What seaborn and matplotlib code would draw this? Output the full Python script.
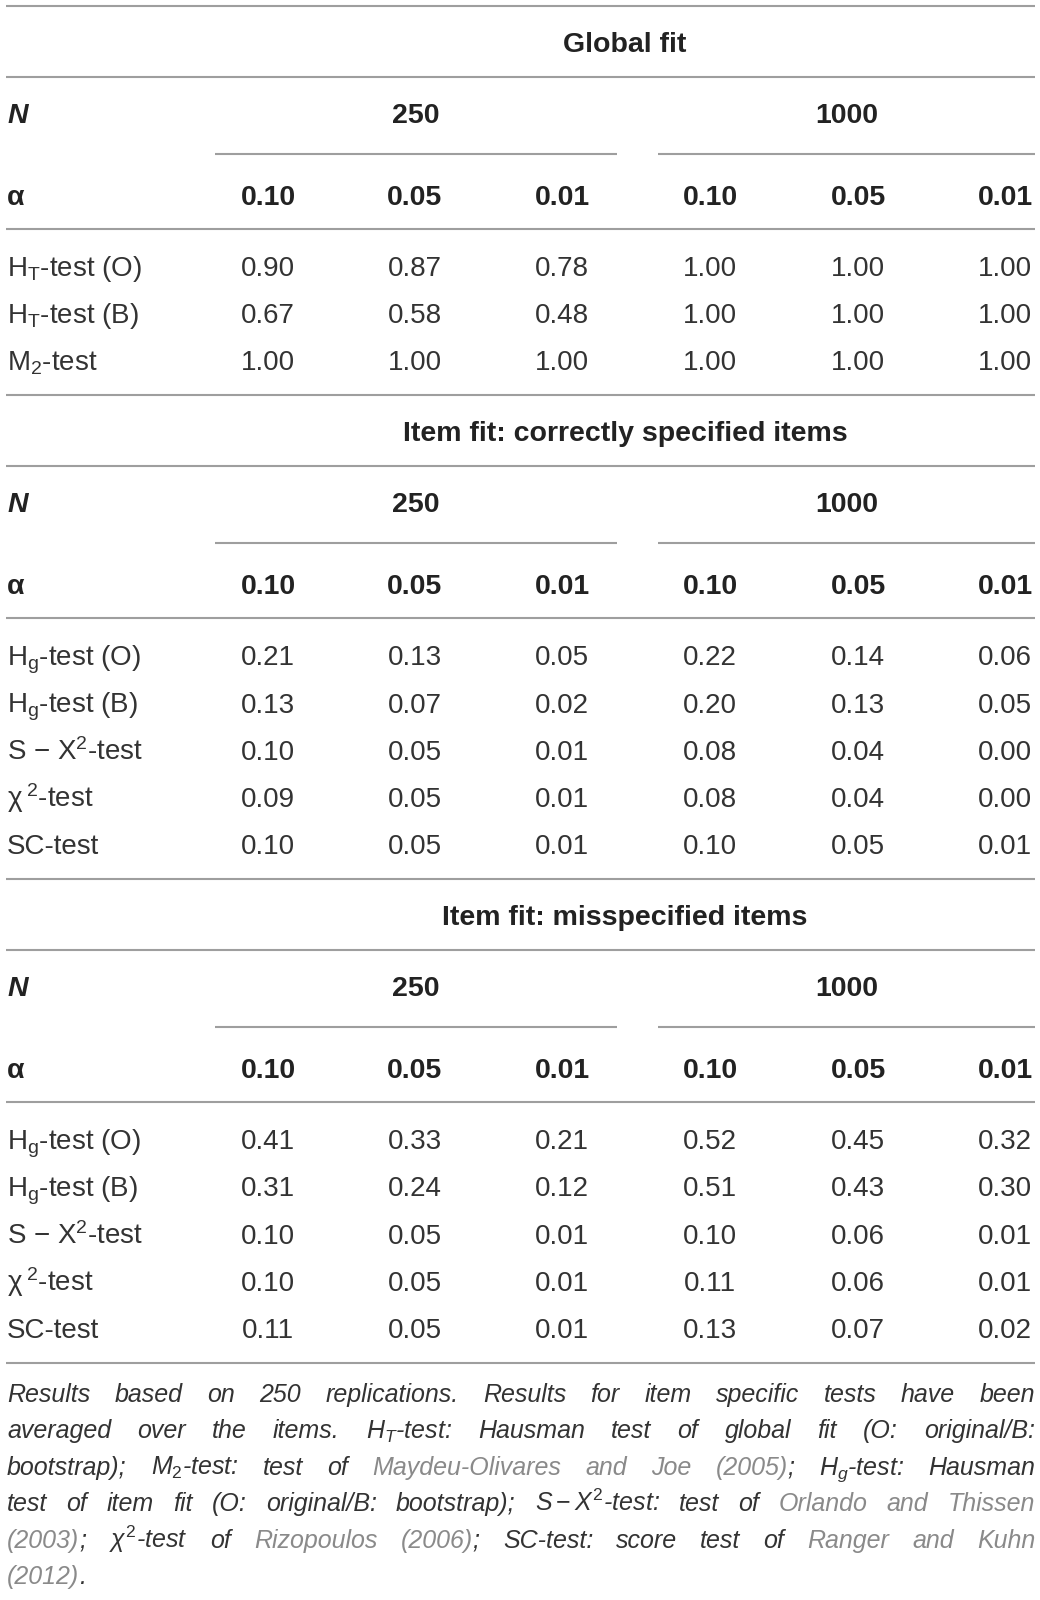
import numpy as np
import pandas as pd
import matplotlib
matplotlib.use("Agg")
import matplotlib.pyplot as plt
from matplotlib import font_manager
import seaborn as sns

# Step 1: table content
sample_sizes = ["250", "1000"]
alpha_levels = ["0.10", "0.05", "0.01"]
section_titles = ["Global fit",
                  "Item fit: correctly specified items",
                  "Item fit: misspecified items"]

global_tests = [r"H$_\mathrm{T}$-test (O)",
                r"H$_\mathrm{T}$-test (B)",
                r"M$_2$-test"]
global_values = [
    [0.90, 0.87, 0.78, 1.00, 1.00, 1.00],
    [0.67, 0.58, 0.48, 1.00, 1.00, 1.00],
    [1.00, 1.00, 1.00, 1.00, 1.00, 1.00],
]

item_tests = [r"H$_\mathrm{g}$-test (O)",
              r"H$_\mathrm{g}$-test (B)",
              r"S − X$^2$-test",
              r"χ$^{\;2}$-test",
              "SC-test"]
correct_values = [
    [0.21, 0.13, 0.05, 0.22, 0.14, 0.06],
    [0.13, 0.07, 0.02, 0.20, 0.13, 0.05],
    [0.10, 0.05, 0.01, 0.08, 0.04, 0.00],
    [0.09, 0.05, 0.01, 0.08, 0.04, 0.00],
    [0.10, 0.05, 0.01, 0.10, 0.05, 0.01],
]
misspec_values = [
    [0.41, 0.33, 0.21, 0.52, 0.45, 0.32],
    [0.31, 0.24, 0.12, 0.51, 0.43, 0.30],
    [0.10, 0.05, 0.01, 0.10, 0.06, 0.01],
    [0.10, 0.05, 0.01, 0.11, 0.06, 0.01],
    [0.11, 0.05, 0.01, 0.13, 0.07, 0.02],
]

# [ ... ] marks the grey reference links
footnote_lines = [
    "Results based on 250 replications. Results for item specific tests have been",
    r"averaged over the items. $H_T$-test: Hausman test of global fit (O: original/B:",
    r"bootstrap); $M_2$-test: test of [Maydeu-Olivares and Joe (2005)]; $H_g$-test: Hausman",
    r"test of item fit (O: original/B: bootstrap); $S-X^2$-test: test of [Orlando and Thissen]",
    r"[(2003)]; $\chi^2$-test of [Rizopoulos (2006)]; SC-test: score test of [Ranger and Kuhn]",
    "[(2012)].",
]

# Step 2: build small tables
cols = pd.MultiIndex.from_product([sample_sizes, alpha_levels])
sections = [
    pd.DataFrame(global_values, index=global_tests, columns=cols),
    pd.DataFrame(correct_values, index=item_tests, columns=cols),
    pd.DataFrame(misspec_values, index=item_tests, columns=cols),
]


def has_font(name):
    try:
        font_manager.findfont(font_manager.FontProperties(family=name),
                              fallback_to_default=False)
        return True
    except Exception:
        return False


narrow = has_font("Liberation Sans Narrow")
foot_font = "Liberation Sans Narrow" if narrow else "Liberation Sans"
foot_size = 18

# Step 3: styling
sns.set_theme(style="white")
plt.rcParams["font.family"] = ["Liberation Sans", "DejaVu Sans"]
plt.rcParams["mathtext.fontset"] = "custom"
plt.rcParams["mathtext.rm"] = "Liberation Sans"
plt.rcParams["mathtext.it"] = foot_font + ":italic"
plt.rcParams["mathtext.bf"] = "Liberation Sans:bold"

body_color = "#333333"
head_color = "#222222"
rule_color = "#9e9e9e"
link_color = "#8a8a8a"
body_size = 20
head_size = 20.5

fig = plt.figure(figsize=(10.4, 16), dpi=100)
ax = fig.add_axes([0, 0, 1, 1])
ax.set_xlim(0, 1040)
ax.set_ylim(1600, 0)
ax.axis("off")

left_x = 7
right_x = 1035
col_x = [268, 415, 562, 710, 858, 1005]
group_spans = [(215, 617), (658, 1035)]
row_step = 47.2


def rule(y, x0=6, x1=right_x):
    ax.plot([x0, x1], [y, y], color=rule_color, lw=1.5, solid_capstyle="butt")


def draw_section(top, title, table):
    rule(top)
    ax.text((group_spans[0][0] + right_x) / 2, top + 36 + 10, title,
            fontsize=head_size, fontweight="bold", color=head_color,
            ha="center", va="baseline")
    rule(top + 71)
    ax.text(left_x, top + 107 + 10, "N", fontsize=head_size, fontweight="bold",
            style="italic", color=head_color, ha="left", va="baseline")
    for (x0, x1), n in zip(group_spans, sample_sizes):
        ax.text((x0 + x1) / 2, top + 107 + 10, n, fontsize=head_size,
                fontweight="bold", color=head_color, ha="center", va="baseline")
        rule(top + 148, x0, x1)
    ax.text(left_x, top + 189 + 10, "α", fontsize=head_size, fontweight="bold",
            color=head_color, ha="left", va="baseline")
    for x, (n, a) in zip(col_x, table.columns):
        ax.text(x, top + 189 + 10, a, fontsize=head_size, fontweight="bold",
                color=head_color, ha="center", va="baseline")
    rule(top + 223)
    y = top + 223 + 37
    for name, row in table.iterrows():
        ax.text(left_x, y + 10, name, fontsize=body_size, color=body_color,
                ha="left", va="baseline")
        for x, v in zip(col_x, row.values):
            ax.text(x, y + 10, f"{v:.2f}", fontsize=body_size, color=body_color,
                    ha="center", va="baseline")
        y += row_step
    return y - row_step + 35


top = 6
for title, table in zip(section_titles, sections):
    top = draw_section(top, title, table)
rule(top)


# Step 4: justified footnote
def parse_words(line):
    words, cur, piece, grey, in_math = [], [], "", False, False
    for ch in line:
        if ch == "$":
            in_math = not in_math
            piece += ch
        elif ch == "[" and not in_math:
            if piece:
                cur.append((piece, grey))
            piece, grey = "", True
        elif ch == "]" and not in_math:
            if piece:
                cur.append((piece, grey))
            piece, grey = "", False
        elif ch == " " and not in_math:
            if piece:
                cur.append((piece, grey))
            if cur:
                words.append(cur)
            cur, piece = [], ""
        else:
            piece += ch
    if piece:
        cur.append((piece, grey))
    if cur:
        words.append(cur)
    return words


fig.canvas.draw()
renderer = fig.canvas.get_renderer()
foot_top = top + 30
foot_step = 36.4
text_w = right_x - left_x
for i, line in enumerate(footnote_lines):
    y = foot_top + i * foot_step + 9
    words = parse_words(line)
    objs, widths = [], []
    for w in words:
        wo, ww = [], []
        for txt, grey in w:
            t = ax.text(0, y, txt, fontsize=foot_size, family=foot_font,
                        style="italic", color=link_color if grey else body_color,
                        ha="left", va="baseline")
            wo.append(t)
            ww.append(t.get_window_extent(renderer).width)
        objs.append(wo)
        widths.append(ww)
    total = sum(sum(ww) for ww in widths)
    last = i == len(footnote_lines) - 1
    gap = 7 if (last or len(words) < 2) else (text_w - total) / (len(words) - 1)
    gap = max(gap, 4)
    x = left_x
    for wo, ww in zip(objs, widths):
        for t, wdt in zip(wo, ww):
            t.set_x(x)
            x += wdt
        x += gap

fig.savefig("out.png", dpi=100, facecolor="white")
